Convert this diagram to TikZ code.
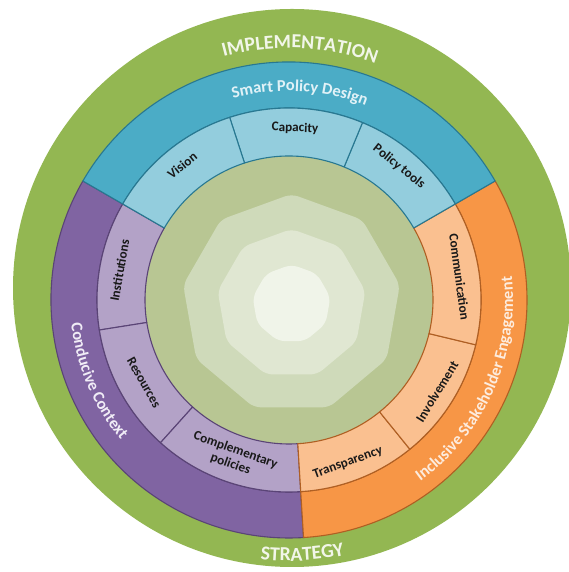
\documentclass[tikz,border=0pt]{standalone}
\usepackage{fontspec}
\setmainfont{Carlito}
\usetikzlibrary{decorations.text}
\definecolor{grn}{RGB}{147,183,82}
\definecolor{bluedark}{RGB}{75,172,198}
\definecolor{bluelight}{RGB}{147,205,221}
\definecolor{blueline}{RGB}{40,120,145}
\definecolor{purpdark}{RGB}{128,100,162}
\definecolor{purplight}{RGB}{179,162,199}
\definecolor{purpline}{RGB}{90,68,118}
\definecolor{orgdark}{RGB}{247,150,70}
\definecolor{orglight}{RGB}{250,192,144}
\definecolor{orgline}{RGB}{175,95,35}
\definecolor{disc}{RGB}{184,198,147}
\definecolor{nonA}{RGB}{207,218,186}
\definecolor{nonB}{RGB}{224,231,210}
\definecolor{nonC}{RGB}{240,244,233}
\definecolor{segtxt}{RGB}{25,25,25}
\definecolor{bluetxt}{RGB}{225,242,247}
\definecolor{purptxt}{RGB}{240,236,246}
\definecolor{orgtxt}{RGB}{253,236,222}
\definecolor{grntxt}{RGB}{242,246,233}
\newcommand{\annsec}[5]{\filldraw[#1] (#2:#4) -- (#2:#5) arc[start angle=#2, end angle=#3, radius=#5] -- (#3:#4) arc[start angle=#3, end angle=#2, radius=#4] -- cycle;}
\newcommand{\nonag}[2]{\fill[#2, rounded corners=7pt, shift={(2.5,-4)}] (70:{0.9397*#1}) -- (50:#1) -- (10:#1) -- (-30:#1) -- (-70:#1) -- (-110:#1) -- (-150:#1) -- (170:#1) -- (130:#1) -- (90:#1) -- cycle;}
\newcommand{\bandfont}{\fontsize{16.5}{19}\selectfont\bfseries}
\newcommand{\outerfont}{\fontsize{19.8}{23}\selectfont\bfseries}
\begin{document}
\begin{tikzpicture}[x=1pt,y=1pt,
  blueband/.style={fill=bluedark, draw=blueline, line width=1.1pt, line join=round},
  bluering/.style={fill=bluelight, draw=blueline, line width=1.1pt, line join=round},
  purpband/.style={fill=purpdark, draw=purpline, line width=1.1pt, line join=round},
  purpring/.style={fill=purplight, draw=purpline, line width=1.1pt, line join=round},
  orgband/.style={fill=orgdark, draw=orgline, line width=1.1pt, line join=round},
  orgring/.style={fill=orglight, draw=orgline, line width=1.1pt, line join=round},
  seglabel/.style={font=\fontsize{13.2}{15}\selectfont\bfseries, text=segtxt, inner sep=0pt, align=center}]
\useasboundingbox (0,0) rectangle (568,572);
\fill[grn] (292,284) circle[radius=279];
\begin{scope}[shift={(289,272)}]
  \fill[disc] (0,0) circle[radius=144];
  \nonag{110}{nonA}
  \nonag{75}{nonB}
  \nonag{39.5}{nonC}
  % bands
  \annsec{purpband}{150}{273.5}{192}{238}
  \annsec{orgband}{273.5}{390}{192}{238}
  \annsec{blueband}{30}{150}{192}{238}
  % ring segments
  \annsec{purpring}{150}{189}{144}{192}
  \annsec{purpring}{189}{228}{144}{192}
  \annsec{purpring}{228}{273.5}{144}{192}
  \annsec{orgring}{273.5}{309}{144}{192}
  \annsec{orgring}{309}{346.5}{144}{192}
  \annsec{orgring}{346.5}{390}{144}{192}
  \annsec{bluering}{30}{67.5}{144}{192}
  \annsec{bluering}{67.5}{108}{144}{192}
  \annsec{bluering}{108}{150}{144}{192}
  % segment labels
  \node[seglabel, rotate=38.4] (vision) at (128.4:172) {Vision};
  \node[seglabel, rotate=-2] (capacity) at (88:172) {Capacity};
  \node[seglabel, rotate=-38.7] (tools) at (50.5:173) {Policy tools};
  \node[seglabel, rotate=80] (inst) at (170:172) {Institutions};
  \node[seglabel, rotate=-60.3] (res) at (209.7:167) {Resources};
  \node[seglabel, rotate=-19.6] (compl) at (250.4:167) {Complementary\\policies};
  \node[seglabel, rotate=19.9] (transp) at (289.9:173) {Transparency};
  \node[seglabel, rotate=58.3] (involv) at (328.3:174) {Involvement};
  \node[seglabel, rotate=-82.3] (comm) at (7.7:172) {Communication};
  % band labels
  \path[decorate, decoration={text along path, text={|\bandfont|Smart Policy Design}, text color=bluetxt, text align=center}]
    (130:209) arc[start angle=130, end angle=44, radius=209];
  \path[decorate, decoration={text along path, text={|\bandfont|Conducive Context}, text color=purptxt, text align=center}]
    (170:219) arc[start angle=170, end angle=236, radius=219];
  \path[decorate, decoration={text along path, text={|\bandfont|Inclusive Stakeholder Engagement}, text color=orgtxt, text align=center}]
    (-70:224) arc[start angle=-70, end angle=22, radius=224];
  % outer labels
  \path[decorate, decoration={text along path, text={|\outerfont|IMPLEMENTATION}, text color=grntxt, text align=center}]
    (130:252) arc[start angle=130, end angle=45, radius=252];
  \path[decorate, decoration={text along path, text={|\outerfont|STRATEGY}, text color=grntxt, text align=center}]
    (245:261) arc[start angle=245, end angle=301, radius=261];
\end{scope}
\end{tikzpicture}
\end{document}
